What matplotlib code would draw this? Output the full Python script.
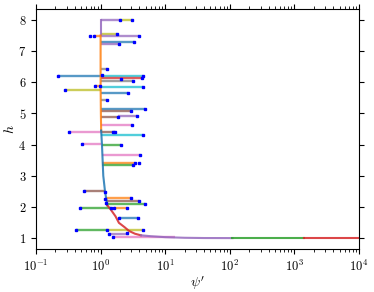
import matplotlib
matplotlib.use("Agg")
import matplotlib.pyplot as plt

plt.rcParams['font.family'] = 'serif'
plt.rcParams['font.serif'] = ['cmr10', 'DejaVu Serif']
plt.rcParams['mathtext.fontset'] = 'cm'
plt.rcParams['axes.formatter.use_mathtext'] = True
plt.rcParams['axes.unicode_minus'] = False

# Horizontal segments: height, start, end, colour
seg_h = [8.00, 8.00, 7.54, 7.49, 7.48, 7.28, 7.24, 6.42, 6.19, 6.20, 6.15, 6.03,
         5.89, 5.84, 5.74, 5.64, 5.44, 5.13, 5.07, 4.90, 4.91, 4.62, 4.40, 4.41,
         4.30, 4.03, 3.98, 3.68, 3.40, 3.35, 2.52, 2.30, 2.18, 2.10, 1.95, 1.95,
         1.65, 1.25, 1.25, 1.12, 1.03]
seg_x0 = [1.00, 1.97, 1.00, 1.00, 0.78, 1.00, 1.00, 1.00, 0.218, 1.03, 1.03, 1.03,
          0.82, 1.00, 0.277, 1.02, 1.00, 1.02, 1.02, 1.02, 1.88, 1.02, 0.33, 1.02,
          1.02, 0.51, 1.05, 1.05, 1.05, 1.05, 0.56, 1.23, 1.20, 1.23, 0.48, 1.61,
          1.90, 0.41, 1.24, 1.36, 1.57]
seg_x1 = [1.97, 3.02, 1.77, 3.92, 1.00, 3.33, 1.92, 1.27, 1.00, 4.59, 4.32, 3.13,
          1.00, 4.53, 1.00, 2.65, 1.27, 4.81, 2.92, 1.88, 3.65, 3.02, 1.02, 1.67,
          4.48, 1.00, 2.09, 4.13, 3.40, 3.13, 1.17, 2.95, 3.92, 4.86, 1.47, 2.53,
          3.79, 1.24, 4.48, 2.75, 14.0]
seg_color = ['tab:purple', 'tab:olive', 'tab:olive', 'tab:purple', 'tab:orange',
             'tab:blue', 'tab:purple', 'tab:gray', 'tab:blue', 'tab:cyan', 'tab:red',
             'tab:gray', 'tab:orange', 'tab:cyan', 'tab:olive', 'tab:blue', 'tab:gray',
             'tab:blue', 'tab:brown', 'tab:brown', 'tab:purple', 'tab:pink', 'tab:pink',
             'tab:brown', 'tab:cyan', 'tab:pink', 'tab:green', 'tab:pink', 'tab:orange',
             'tab:green', 'tab:brown', 'tab:orange', 'tab:brown', 'tab:green',
             'tab:green', 'tab:orange', 'tab:blue', 'tab:green', 'tab:olive',
             'tab:purple', 'tab:pink']

# Blue marker points
dot_x = [1.97, 3.02, 1.77, 3.92, 0.675, 0.78, 3.33, 1.92, 1.27, 1.07, 0.218, 4.59,
         4.32, 2.09, 3.13, 0.82, 0.975, 4.53, 0.277, 2.65, 1.27, 4.81, 2.92, 1.88,
         3.65, 3.02, 0.33, 1.53, 1.67, 4.48, 0.51, 2.09, 4.13, 3.40, 3.98, 3.13,
         0.56, 1.17, 1.17, 2.95, 3.92, 1.23, 4.86, 0.48, 1.47, 1.61, 2.53, 1.90,
         3.79, 0.41, 1.24, 4.48, 2.60, 1.36, 1.57]
dot_h = [8.00, 8.00, 7.54, 7.49, 7.48, 7.48, 7.28, 7.24, 6.42, 6.23, 6.19, 6.20,
         6.15, 6.10, 6.03, 5.89, 5.89, 5.84, 5.74, 5.64, 5.44, 5.13, 5.07, 4.90,
         4.91, 4.62, 4.40, 4.41, 4.41, 4.30, 4.03, 3.98, 3.68, 3.40, 3.40, 3.35,
         2.52, 2.48, 2.27, 2.30, 2.18, 2.12, 2.10, 1.95, 1.95, 1.95, 1.95, 1.65,
         1.65, 1.25, 1.25, 1.26, 1.15, 1.12, 1.03]

# Main curve, in coloured pieces
c1_x = [1.00, 1.00]
c1_h = [8.00, 7.50]
c2_x = [1.00, 1.00, 1.01, 1.02]
c2_h = [7.50, 6.00, 5.00, 4.45]
c3_x = [1.02, 1.05, 1.10, 1.17, 1.27]
c3_h = [4.45, 4.00, 3.00, 2.50, 2.05]
c4_x = [1.27, 1.43, 1.70, 1.92, 2.35, 2.75, 3.40, 4.20]
c4_h = [2.05, 1.92, 1.70, 1.49, 1.35, 1.23, 1.14, 1.09]
c5_x = [4.20, 6.0, 10.0, 20.0, 40.0, 110.0]
c5_h = [1.09, 1.06, 1.03, 1.01, 1.002, 1.0]
c6_x = [110.0, 1400.0]
c6_h = [1.0, 1.0]
c7_x = [1400.0, 10000.0]
c7_h = [1.0, 1.0]
curve_x = [c1_x, c2_x, c3_x, c4_x, c5_x, c6_x, c7_x]
curve_h = [c1_h, c2_h, c3_h, c4_h, c5_h, c6_h, c7_h]
curve_color = ['tab:purple', 'tab:orange', 'tab:blue', 'tab:red', 'tab:purple',
               'tab:green', 'tab:red']

fig = plt.figure(figsize=(3.74, 2.92), dpi=100)
ax = fig.add_axes([36/374, 43/292, 323/374, 240/292])

for h, x0, x1, c in zip(seg_h, seg_x0, seg_x1, seg_color):
    ax.plot([x0, x1], [h, h], color=c, lw=1.7, alpha=0.75, solid_capstyle='butt')

for xs, hs, c in zip(curve_x, curve_h, curve_color):
    ax.plot(xs, hs, color=c, lw=1.5, alpha=0.85)

ax.plot(dot_x, dot_h, 's', color='blue', ms=2.0, lw=0)

ax.set_xscale('log')
ax.set_xlim(0.1, 1e4)
ax.set_ylim(0.65, 8.35)
ax.set_yticks([1, 2, 3, 4, 5, 6, 7, 8])
ax.tick_params(axis='both', which='both', top=True, right=True, labelsize=9)
ax.tick_params(which='major', length=3.5, width=0.8)
ax.tick_params(which='minor', length=2, width=0.6)
ax.set_xlabel(r"$\psi'$", fontsize=10, labelpad=0)
ax.set_ylabel(r"$h$", fontsize=10, labelpad=1)

fig.savefig('out.png', dpi=100)
